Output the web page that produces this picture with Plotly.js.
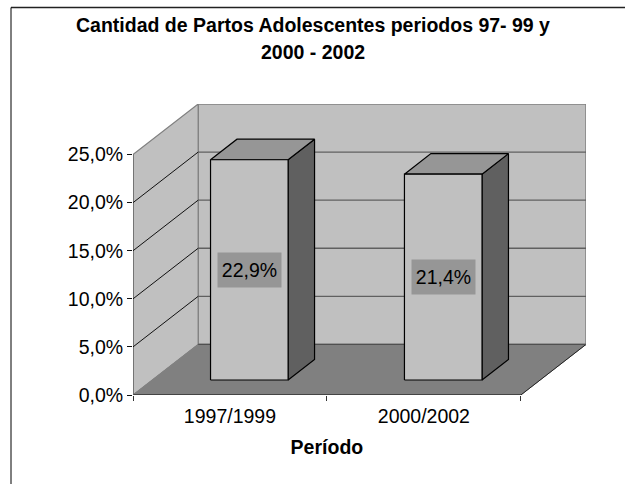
<!DOCTYPE html>
<html>
<head>
<meta charset="utf-8">
<script src="https://cdn.plot.ly/plotly-3.0.1.min.js"></script>
<style>html,body{margin:0;padding:0;background:#fff}</style>
</head>
<body>
<div id="chart" style="width:625px;height:484px"></div>
<script>
// Data
const categories = ["1997/1999", "2000/2002"];
const values = [22.9, 21.4];
const labels = ["22,9%", "21,4%"];
const yTicks = [0, 5, 10, 15, 20, 25];
const yTickLabels = ["0,0%", "5,0%", "10,0%", "15,0%", "20,0%", "25,0%"];

// Oblique projection settings
const yMax = 25, depthX = 0.336, depthY = 5.26;
const barWidth = 0.4, barFront = 0.297, barBack = 0.703;
const P = (c, v, d) => [c + d * depthX, v + d * depthY];
const xEnd = categories.length;

const FONT = '"Liberation Sans", Arial, sans-serif';
const FS = 19.5;
const W = 625, H = 484, mL = 133, mR = 39, mT = 104, mB = 89;
const pw = W - mL - mR, ph = H - mT - mB;
const pxX = px => (px - mL) / pw;
const pxY = py => (H - mB - py) / ph;

function poly(points, fill, lineColor, lineWidth) {
  const pts = points.concat([points[0]]);
  return {
    x: pts.map(p => p[0]), y: pts.map(p => p[1]),
    mode: 'lines', type: 'scatter', fill: 'toself', fillcolor: fill,
    line: {color: lineColor, width: lineWidth, simplify: false},
    hoverinfo: 'skip', showlegend: false
  };
}
function seg(a, b, color, width) {
  return {
    x: [a[0], b[0]], y: [a[1], b[1]], mode: 'lines', type: 'scatter',
    line: {color: color, width: width}, hoverinfo: 'skip', showlegend: false, cliponaxis: false
  };
}

const traces = [];
// back wall, side wall, floor
traces.push(poly([P(0,0,1), P(xEnd,0,1), P(xEnd,yMax,1), P(0,yMax,1)], '#C0C0C0', '#808080', 1.5));
traces.push(poly([P(0,0,0), P(0,0,1), P(0,yMax,1), P(0,yMax,0)], '#C0C0C0', '#808080', 1.2));
traces.push(poly([P(0,0,0), P(xEnd,0,0), P(xEnd,0,1), P(0,0,1)], '#808080', '#808080', 1));
// floor edges
traces.push(seg(P(xEnd,0,0), P(xEnd,0,1), '#222222', 1));
traces.push(seg(P(0,0,1), P(xEnd,0,1), '#505050', 1.3));
traces.push(seg(P(0,0,0), P(xEnd,0,0), '#303030', 1.3));
traces.push(seg(P(0,0,0), P(0,yMax,0), '#606060', 1.3));
// gridlines
yTicks.slice(1, -1).forEach(v => {
  traces.push(seg(P(0,v,1), P(xEnd,v,1), '#606060', 1.3));
  traces.push(seg(P(0,v,0), P(0,v,1), '#111111', 1));
});
// bars
values.forEach((v, i) => {
  const c0 = i + 0.5 - barWidth / 2, c1 = i + 0.5 + barWidth / 2;
  traces.push(poly([P(c1,0,barFront), P(c1,0,barBack), P(c1,v,barBack), P(c1,v,barFront)], '#606060', '#000000', 1.2));
  traces.push(poly([P(c0,v,barFront), P(c1,v,barFront), P(c1,v,barBack), P(c0,v,barBack)], '#969696', '#000000', 1.2));
  traces.push(poly([P(c0,0,barFront), P(c1,0,barFront), P(c1,v,barFront), P(c0,v,barFront)], '#C0C0C0', '#000000', 1.2));
});
// category axis carrier
traces.push({
  x: categories, y: values, xaxis: 'x2', yaxis: 'y', type: 'scatter', mode: 'markers',
  marker: {opacity: 0, size: 1}, hoverinfo: 'skip', showlegend: false
});

const annotations = values.map((v, i) => {
  const p = P(i + 0.5, v / 2, barFront);
  return {
    x: p[0], y: p[1], xref: 'x', yref: 'y', text: labels[i], showarrow: false,
    bgcolor: '#969696', width: 61, height: 32, align: 'center', valign: 'middle',
    font: {family: FONT, size: FS, color: '#000'}
  };
});
annotations.push({
  xref: 'paper', yref: 'paper', x: pxX(313), y: pxY(52), yanchor: 'middle', xanchor: 'center',
  text: '2000 - 2002', showarrow: false,
  font: {family: FONT, size: FS, color: '#000', weight: 700}
});

const layout = {
  width: W, height: H,
  margin: {l: mL, r: mR, t: mT, b: mB, pad: 0},
  paper_bgcolor: '#FFFFFF', plot_bgcolor: 'rgba(0,0,0,0)',
  showlegend: false, hovermode: false,
  title: {
    text: 'Cantidad de Partos Adolescentes periodos 97- 99 y',
    x: 313 / W, xref: 'container', xanchor: 'center',
    y: 1 - 25 / H, yref: 'container', yanchor: 'middle',
    font: {family: FONT, size: FS, color: '#000', weight: 700}
  },
  xaxis: {
    range: [0, xEnd + depthX], domain: [0, 1], showgrid: false, zeroline: false, showline: false,
    tickmode: 'array', tickvals: [0, 1, 2], ticktext: ['', '', ''], ticks: 'outside', ticklen: 5,
    tickcolor: '#333', tickwidth: 1, fixedrange: true
  },
  xaxis2: {
    type: 'category', anchor: 'y', domain: [0, xEnd / (xEnd + depthX)], range: [-0.5, 1.5],
    showgrid: false, zeroline: false, showline: false, ticks: '', ticklabelstandoff: 7,
    tickfont: {family: FONT, size: FS, color: '#000'},
    title: {text: 'Período', standoff: 14, font: {family: FONT, size: FS, color: '#000', weight: 700}},
    fixedrange: true
  },
  yaxis: {
    range: [0, yMax + depthY], showgrid: false, zeroline: false, showline: false,
    tickmode: 'array', tickvals: yTicks, ticktext: yTickLabels, ticks: 'outside', ticklen: 5,
    tickcolor: '#111', tickwidth: 1, tickfont: {family: FONT, size: FS, color: '#000'}, fixedrange: true
  },
  shapes: [
    {type: 'line', xref: 'paper', yref: 'paper', layer: 'below',
     x0: pxX(11), x1: pxX(W), y0: pxY(7.5), y1: pxY(7.5), line: {color: '#222', width: 1.5}},
    {type: 'line', xref: 'paper', yref: 'paper', layer: 'below',
     x0: pxX(11), x1: pxX(11), y0: pxY(7.5), y1: pxY(H), line: {color: '#000', width: 1}}
  ],
  annotations: annotations
};

Plotly.newPlot('chart', traces, layout, {displayModeBar: false, responsive: false, staticPlot: true});
</script>
</body>
</html>
